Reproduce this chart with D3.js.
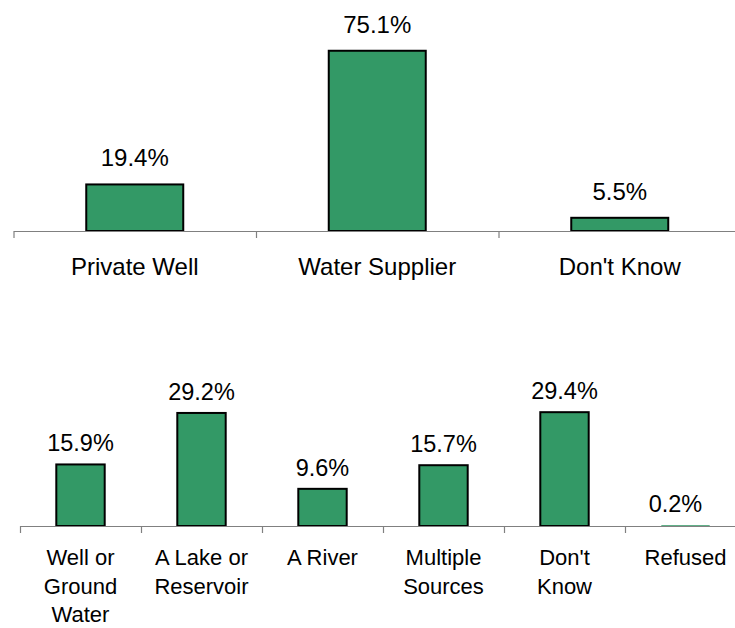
<!DOCTYPE html>
<html>
<head>
<meta charset="utf-8">
<script src="https://cdn.jsdelivr.net/npm/d3@7"></script>
<style>
  html, body { margin: 0; padding: 0; background: #ffffff; }
  svg { display: block; font-family: "Liberation Sans", Arial, sans-serif; }
</style>
</head>
<body>
<svg id="chart" width="735" height="628"></svg>
<script>
// ---- Data ----
const topCategories = ["Private Well", "Water Supplier", "Don't Know"];
const topValues = [19.4, 75.1, 5.5];
const bottomCategories = ["Well or\nGround\nWater", "A Lake or\nReservoir", "A River", "Multiple\nSources", "Don't\nKnow", "Refused"];
const bottomValues = [15.9, 29.2, 9.6, 15.7, 29.4, 0.2];

const svg = d3.select("#chart");
const fmt = v => v.toFixed(1) + "%";

function panel(cfg) {
  const n = cfg.categories.length;
  const x = d3.scaleBand()
    .domain(d3.range(n))
    .range([cfg.x0, cfg.x1])
    .paddingInner(0.6)
    .paddingOuter(0.3);
  const xTicks = d3.scaleLinear().domain([0, n]).range([cfg.x0, cfg.x1]);
  const y = d3.scaleLinear().domain([0, cfg.yMax]).range([cfg.base, cfg.top]);

  const g = svg.append("g");

  // bars
  g.selectAll("rect.bar")
    .data(cfg.values)
    .join("rect")
    .attr("class", "bar")
    .attr("x", (d, i) => x(i))
    .attr("width", x.bandwidth())
    .attr("y", d => y(d))
    .attr("height", d => y(0) - y(d))
    .attr("fill", "#339966")
    .attr("stroke", "#000")
    .attr("stroke-width", d => (y(0) - y(d)) < 2 ? 0 : 2);

  // axis with ticks between categories
  const axis = d3.axisBottom(xTicks)
    .tickValues(d3.range(n + 1))
    .tickSize(7)
    .tickSizeOuter(0)
    .tickFormat("");
  const ag = g.append("g").attr("transform", `translate(0,${cfg.base})`).call(axis);
  ag.selectAll("path, line").attr("stroke", "#808080").attr("stroke-width", 1.2);

  // value labels
  g.selectAll("text.val")
    .data(cfg.values)
    .join("text")
    .attr("class", "val")
    .attr("x", (d, i) => x(i) + x.bandwidth() / 2 + (cfg.valShift ? cfg.valShift[i] : 0))
    .attr("y", d => y(d) - cfg.valGap)
    .attr("text-anchor", "middle")
    .attr("font-size", cfg.valSize)
    .attr("fill", "#000")
    .text(fmt);

  // category labels
  const cg = g.selectAll("text.cat")
    .data(cfg.categories)
    .join("text")
    .attr("class", "cat")
    .attr("text-anchor", "middle")
    .attr("font-size", cfg.catSize)
    .attr("fill", "#000")
    .attr("y", cfg.base + cfg.catGap);
  cg.each(function(d, i) {
    const t = d3.select(this);
    d.split("\n").forEach((line, k) => {
      t.append("tspan")
        .attr("x", x(i) + x.bandwidth() / 2)
        .attr("y", cfg.base + cfg.catGap + k * cfg.lineH)
        .text(line);
    });
  });
}

panel({
  categories: topCategories, values: topValues,
  x0: 13.5, x1: 741, base: 231, top: 39, yMax: 80,
  valGap: 18, valSize: 24, catSize: 24, catGap: 44, lineH: 29
});

panel({
  categories: bottomCategories, values: bottomValues,
  x0: 20, x1: 746, base: 526, top: 390.5, yMax: 35,
  valGap: 13, valSize: 23.5, catSize: 22, catGap: 39, lineH: 28.5,
  valShift: [0, 0, 0, 0, 0, -10]
});
</script>
</body>
</html>
